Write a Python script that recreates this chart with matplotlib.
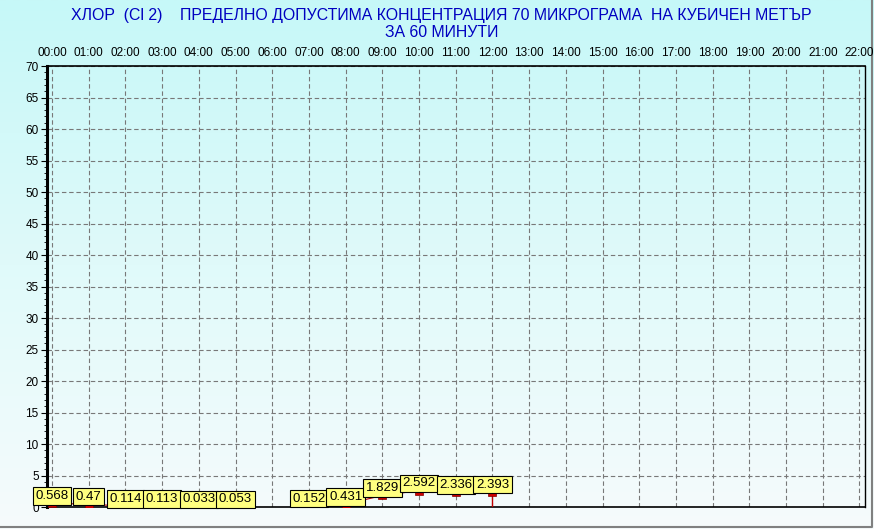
import matplotlib
matplotlib.use("Agg")
import matplotlib.pyplot as plt
import numpy as np
from matplotlib.colors import LinearSegmentedColormap

plt.rcParams["font.family"] = ["Liberation Sans", "DejaVu Sans"]

# data
hours = [0, 1, 2, 3, 4, 5, 6, 7, 8, 9, 10, 11, 12]
values = [0.568, 0.47, 0.114, 0.113, 0.033, 0.053, np.nan,
          0.152, 0.431, 1.829, 2.592, 2.336, 2.393]
tick_hours = list(range(0, 23))
tick_labels = ["%02d:00" % h for h in tick_hours]
title = ("ХЛОР  (Cl 2)    ПРЕДЕЛНО ДОПУСТИМА КОНЦЕНТРАЦИЯ 70 МИКРОГРАМА  НА КУБИЧЕН МЕТЪР\n"
         "ЗА 60 МИНУТИ")

fig = plt.figure(figsize=(8.74, 5.29), dpi=100)

# vertical gradient background
bg = fig.add_axes([0, 0, 1, 1])
grad = LinearSegmentedColormap.from_list("bg", ["#F6FBFC", "#E0FAFA", "#C6F8F8"])
bg.imshow(np.linspace(0, 1, 256).reshape(-1, 1), aspect="auto", cmap=grad,
          origin="lower", extent=[0, 1, 0, 1])
bg.set_xlim(0, 1)
bg.set_ylim(0, 1)
bg.axis("off")
# grey frame at the right and bottom
bg.plot([0, 0.9975, 0.9975], [0.004, 0.004, 1], color="#808080", lw=1.5)

ax = fig.add_axes([47 / 874, 1 - 507 / 529, (865 - 47) / 874, (507 - 66) / 529])
ax.set_facecolor("none")

ax.plot(hours, values, color="#C00000", lw=0.8, zorder=3)
ax.vlines(hours[-1], 0, values[-1], color="#C00000", lw=1, zorder=3)
ax.plot(hours, values, ls="none", marker="s", ms=6, mfc="#D00000",
        mec="#800000", mew=0.5, zorder=4)
for h, v in zip(hours, values):
    if np.isnan(v):
        continue
    ax.annotate(str(v), (h, v), xytext=(0, 1), textcoords="offset points",
                ha="center", va="bottom", fontsize=9.5, zorder=5,
                bbox=dict(boxstyle="square,pad=0.2", fc="#FFFF80", ec="black", lw=0.8),
                annotation_clip=False)

ax.set_xlim(-0.136, 22.15)
ax.set_ylim(0, 70)
ax.set_xticks(tick_hours)
ax.set_xticklabels(tick_labels)
ax.xaxis.tick_top()
ax.tick_params(axis="x", length=0, pad=5, labelsize=8.5)
ax.set_yticks(range(0, 71, 5))
ax.set_yticks(range(0, 71, 1), minor=True)
ax.tick_params(axis="y", which="major", length=4, width=0.8, labelsize=8.5, pad=2)
ax.tick_params(axis="y", which="minor", length=2, width=0.6)
ax.grid(True, color="#787878", ls=(0, (4, 2.5)), lw=0.8)
ax.set_axisbelow(True)

ax.spines["left"].set_linewidth(2.2)
ax.spines["right"].set_linewidth(1)
for s in ("top", "bottom"):
    ax.spines[s].set_linestyle((0, (3, 1)))
    ax.spines[s].set_linewidth(1.2)

fig.text(0.505, 0.985, title, ha="center", va="top", color="#0000C0",
         fontsize=11.4, linespacing=1.15)

fig.savefig("out.png", dpi=100)
